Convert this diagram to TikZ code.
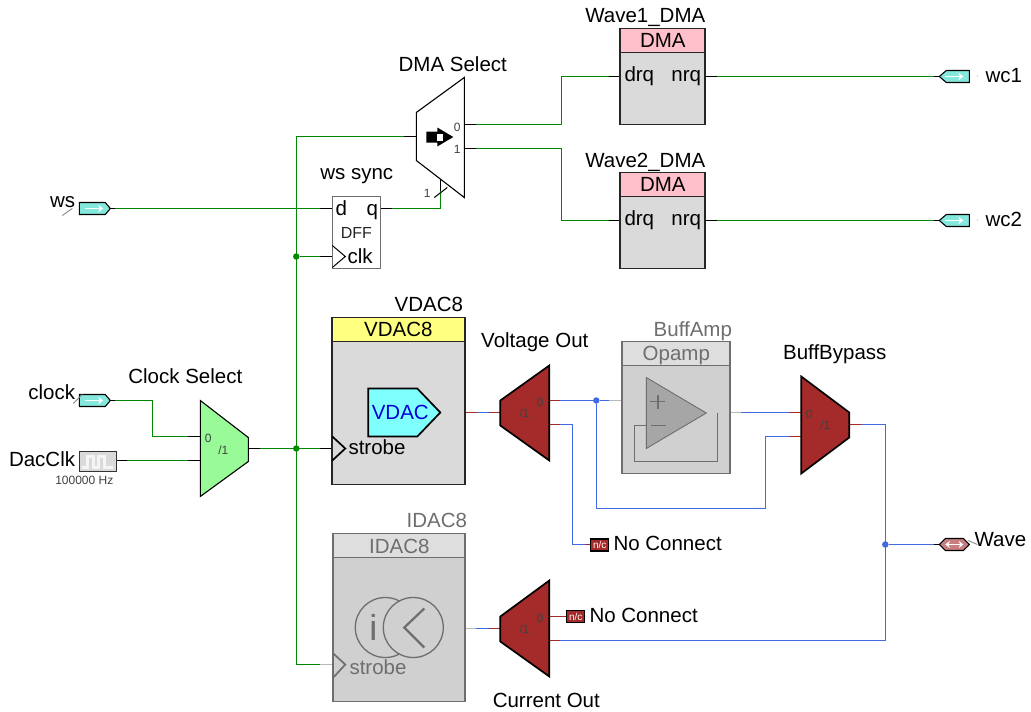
\documentclass[tikz,border=0pt]{standalone}
\usepackage{fontspec}
\setmainfont{Liberation Sans}
\usetikzlibrary{arrows.meta}
\definecolor{wg}{HTML}{008800}
\definecolor{wb}{HTML}{4169E1}
\definecolor{wgy}{HTML}{B8B8B8}
\definecolor{dg}{HTML}{6E6E6E}
\definecolor{brown1}{HTML}{A52A2A}
\definecolor{bodyg}{HTML}{DADADA}
\definecolor{dimbody}{HTML}{D0D0D0}
\definecolor{dimhead}{HTML}{DEDEDE}
\definecolor{portc}{HTML}{84E8DC}
\definecolor{pinkh}{HTML}{FFC0CB}
\definecolor{yellowh}{HTML}{FFFF80}
\definecolor{cyanb}{HTML}{80FFFF}
\definecolor{mintm}{HTML}{98FB98}
\newcommand{\txt}[1]{\fontsize{#1}{#1}\selectfont}
\tikzset{
  x=1pt,y=-1pt,
  lab/.style={inner sep=0pt,font=\txt{20.5},text=black,anchor=base},
  labw/.style={lab,anchor=base west},
  labe/.style={lab,anchor=base east},
  small/.style={inner sep=0pt,font=\txt{12},text=black!75,anchor=base},
  wgreen/.style={wg,line width=1.25pt},
  wblue/.style={wb,line width=1.25pt},
  wred/.style={brown1,line width=1.25pt},
  wgray/.style={wgy,line width=1.4pt},
  wblack/.style={black,line width=1.25pt},
  blockbox/.style={draw=black!85,line width=1.8pt},
  dimbox/.style={draw=dg,line width=1.8pt},
  muxred/.style={fill=brown1,draw=black,line width=1.7pt,line join=miter},
  port/.style={fill=portc,draw=black,line width=1.1pt},
  warrow/.style={white,line width=1.8pt,-{Stealth[length=5pt,width=7.5pt]}},
  gdot/.style={circle,fill=wg,inner sep=0pt,minimum size=6.5pt},
  bdot/.style={circle,fill=wb,inner sep=0pt,minimum size=6.5pt},
  nc/.style={fill=brown1,draw=black,line width=1.1pt,minimum width=18pt,minimum height=12pt,inner sep=0pt,text=white,font=\txt{10}},
}
\begin{document}
\begin{tikzpicture}
\useasboundingbox (0,0) rectangle (1031,712);
\begin{scope}[shift={(.3,.5)}]
% pins
\coordinate (wsout) at (110,208);
\coordinate (dffd) at (332,208);
\coordinate (dffq) at (380,208);
\coordinate (dffclk) at (332,256);
\coordinate (selpin) at (440,178);
\coordinate (dmain) at (416,136);
\coordinate (dmao0) at (464,124);
\coordinate (dmao1) at (464,148);
\coordinate (d1in) at (620,76);
\coordinate (d2in) at (620,220);
\coordinate (d1out) at (705,76);
\coordinate (d2out) at (705,220);
\coordinate (wc1p) at (939,76);
\coordinate (wc2p) at (939,220);
\coordinate (clkout) at (110,400);
\coordinate (dacout) at (116,460);
\coordinate (cs0) at (200,436);
\coordinate (cs1) at (200,460);
\coordinate (csout) at (248,448);
\coordinate (vstrobe) at (332,448);
\coordinate (istrobe) at (333,664);
\coordinate (vdacout) at (440,412);
\coordinate (vmin) at (500,412);
\coordinate (vm0) at (549,400);
\coordinate (vm1) at (549,424);
\coordinate (ampin) at (646,400);
\coordinate (ampout) at (706,412);
\coordinate (bb0) at (801,412);
\coordinate (bb1) at (801,436);
\coordinate (bbout) at (849,424);
\coordinate (idacout) at (444,628);
\coordinate (cmin) at (500,628);
\coordinate (cm0) at (549,616);
\coordinate (cm1) at (549,640);
\coordinate (wavep) at (939,544);
\coordinate (nc1p) at (591,544);
\coordinate (nc2p) at (566,616);
% junctions
\node[gdot] (j1) at (296,256) {};
\node[gdot] (j2) at (296,448) {};
\node[bdot] (j3) at (596,400) {};
\node[bdot] (j4) at (885,544) {};
% green wires
\draw[wgreen] (dmain) -- (296,136) -- (296,664) -- (istrobe);
\draw[wgreen] (wsout) -- (dffd);
\draw[wgreen] (j1) -- (dffclk);
\draw[wgreen] (csout) -- (vstrobe);
\draw[wgreen] (dffq) -- (selpin |- dffq) -- (selpin);
\draw[wgreen] (dmao0) -- (561,124) -- (561,76) -- (d1in);
\draw[wgreen] (dmao1) -- (561,148) -- (561,220) -- (d2in);
\draw[wgreen] (d1out) -- (wc1p);
\draw[wgreen] (d2out) -- (wc2p);
\draw[wgreen] (clkout) -- (152,400) -- (152,436) -- (cs0);
\draw[wgreen] (dacout) -- (cs1);
% blue wires
\draw[wblue] (vdacout) -- (vmin);
\draw[wblue] (vm0) -- (j3) -- (ampin);
\draw[wblue] (vm1) -- (572,424) -- (572,544) -- (nc1p);
\draw[wblue] (j3) -- (596,508) -- (765,508) -- (765,436) -- (bb1);
\draw[wblue] (ampout) -- (bb0);
\draw[wblue] (bbout) -- (885,424) -- (885,640) -- (cm1);
\draw[wblue] (j4) -- (wavep);
\draw[wblue] (idacout) -- (cmin);
% black stubs
\foreach \p/\d in {wsout/5,dffq/12,dmao0/12,dmao1/12,d1out/12,d2out/12,clkout/5,dacout/11,csout/12}
  \draw[wblack] (\p) -- ++(\d,0);
\foreach \p/\d in {dffd/-12,dffclk/-12,dmain/-12,d1in/-11,d2in/-11,wc1p/-5,wc2p/-5,cs0/-12,cs1/-12,vstrobe/-12,wavep/-5}
  \draw[wblack] (\p) -- ++(\d,0);
\draw[wblack] (selpin) -- ++(0,12);
% red stubs
\foreach \p/\d in {vm0/11,vm1/11,bbout/12,cm1/11}
  \draw[wred] (\p) -- ++(\d,0);
\foreach \p/\d in {vmin/-11,bb0/-12,bb1/-12,cmin/-11,nc1p/-6}
  \draw[wred] (\p) -- ++(\d,0);
\draw[wred] (465,412) -- (477,412);
\draw[wred] (cm0) -- (nc2p);
\draw[blue!55!black,line width=1.25pt] (vdacout) -- (465,412);
% gray wires
\draw[wgray] (609,400) -- (ampin);
\draw[wgray] (ampout) -- (741,412);
\draw[wgray] (320,664) -- (istrobe);
\draw[wgray] (idacout) -- (476,628);
% DMA Select mux
\path[draw=black,fill=white,line width=1.1pt] (416,112) -- (464,77) -- (464,197) -- (416,160) -- cycle;
\draw[black,line width=1pt] (434,197) -- (447,187);
\fill[black] (426,131) -- (437,131) -- (437,127) -- (453,136.5) -- (437,146) -- (437,142) -- (426,142) -- cycle;
\fill[white] (437,133) rectangle (443,140);
\node[lab] (ldma) at (452.5,71) {DMA Select};
\node[small] (m0) at (457,131) {0};
\node[small] (m1) at (457,153) {1};
\node[small] (m2) at (427,197) {1};
% DMA blocks
\foreach \n/\y/\t in {1/28/Wave1\_DMA,2/172/Wave2\_DMA}{
  \draw[blockbox,fill=bodyg] (620,\y) rectangle (705,\y+96);
  \draw[blockbox,fill=pinkh] (620,\y) rectangle (705,\y+24);
  \node[lab] (dh\n) at (662.5,\y+19) {DMA};
  \node[labw] (dq\n) at (624,\y+53) {drq};
  \node[labe] (nq\n) at (701,\y+53) {nrq};
  \node[lab] (dl\n) at (645,\y-5.5) {\t};
}
% out ports
\foreach \n/\y/\t in {1/76/wc1,2/220/wc2}{
  \path[port] (939,\y) -- (946,\y-6) -- (969,\y-6) -- (969,\y+6) -- (946,\y+6) -- cycle;
  \draw[warrow] (945,\y) -- (963,\y);
  \node[labw] (wc\n) at (985,\y+6) {\t};
  \fill[gray!70] (977,\y-.5) circle (.6);
}
% ws port and clock port
\foreach \n/\y in {a/208,b/400}{
  \path[port] (79,\y-6) -- (105,\y-6) -- (110,\y) -- (105,\y+6) -- (79,\y+6) -- cycle;
  \draw[warrow] (85,\y) -- (103,\y);
}
\node[labe] (lws) at (75,207) {ws};
\draw[gray,line width=.8pt] (62,215) -- (72,208);
\node[labe] (lclk) at (75,399) {clock};
\draw[gray,line width=.8pt] (73,403) -- (82,394);
% DacClk
\node[draw=black!80,fill=bodyg,line width=1.1pt,minimum width=37pt,minimum height=20pt,inner sep=0pt] (dac) at (97.5,461) {};
\draw[white!96!black,line width=2.5pt] (82,467) -- (87,467) -- (87,456) -- (93,456) -- (93,467) -- (98,467) -- (98,456) -- (104,456) -- (104,467) -- (113,467);
\node[labe] (ldac) at (75,466) {DacClk};
\node[small] (lhz) at (84,483.5) {100000 Hz};
% DFF
\node[draw=dg,fill=white,line width=1.3pt,minimum width=48pt,minimum height=72pt,inner sep=0pt] (dff) at (356,232) {};
\draw[black,line width=1pt] (332,245) -- (345,256) -- (332,267);
\node[lab] (ld) at (341,215) {d};
\node[lab] (lq) at (372,215) {q};
\node[inner sep=0pt,font=\txt{16},text=black!85,anchor=base] (ldff) at (356,237.5) {DFF};
\node[labw] (lck) at (347,262.5) {clk};
\node[lab] (lsync) at (356.5,179) {ws sync};
% Clock Select mux
\path[fill=mintm,draw=black,line width=1.1pt] (200,400) -- (248,437) -- (248,461) -- (200,496) -- cycle;
\node[small] (cs0l) at (208,442) {0};
\node[small] (cs1l) at (223,453.5) {/1};
\node[lab] (lcs) at (185,382.5) {Clock Select};
% VDAC8
\draw[blockbox,fill=bodyg] (332,317) rectangle (465,484);
\draw[blockbox,fill=yellowh] (332,317) rectangle (465,341);
\node[lab] (lv1) at (398,336) {VDAC8};
\node[labe] (lv2) at (463,311) {VDAC8};
\path[draw=black,fill=cyanb,line width=1.7pt] (368,388) -- (417,388) -- (440,412) -- (417,436) -- (368,436) -- cycle;
\node[lab,text=blue!85!black] (lvd) at (400,418.5) {VDAC};
\draw[black,line width=1.7pt] (332,436) -- (345,448) -- (332,460);
\node[labw] (lst) at (348,454) {strobe};
% Voltage Out mux
\path[muxred] (500,400) -- (549,365) -- (549,460) -- (500,425) -- cycle;
\node[small] (v0) at (540,405.5) {0};
\node[small] (v1) at (524,417) {/1};
\node[lab] (lvo) at (534.5,347) {Voltage Out};
% Opamp
\draw[dimbox,fill=dimbody] (622,341) rectangle (730,473);
\draw[dimbox,fill=dimhead] (622,341) rectangle (730,365);
\node[lab,text=dg] (lop) at (676,359.5) {Opamp};
\node[lab,text=dg] (lba) at (692.5,336) {BuffAmp};
\path[draw=dg,fill=gray!70!white,line width=.9pt] (646,377) -- (706,412.5) -- (646,448) -- cycle;
\draw[dg,line width=1.7pt] (650,401) -- (665,401) (657.5,394) -- (657.5,408);
\draw[dg,line width=1.7pt] (651,425) -- (666,425);
\draw[dg,line width=1.1pt] (717,412) -- (717,461) -- (634,461) -- (634,425) -- (646,425);
% BuffBypass mux
\path[muxred] (801,376) -- (849,412) -- (849,437) -- (801,473) -- cycle;
\node[small] (b0) at (809,418) {0};
\node[small] (b1) at (825,429) {/1};
\node[lab] (lbb) at (834.5,358.5) {BuffBypass};
% n/c
\node[nc] (nc1) at (599.5,544.5) {n/c};
\node[labw] (lnc1) at (613,550) {No Connect};
\node[nc] (nc2) at (575.5,616) {n/c};
\node[labw] (lnc2) at (589,622) {No Connect};
% Wave port
\path[fill=brown1!60!white,draw=black,line width=1.1pt] (939,544) -- (945,538) -- (963,538) -- (969,544) -- (963,550) -- (945,550) -- cycle;
\draw[white,line width=1.7pt,{Stealth[length=4.5pt,width=7pt]}-{Stealth[length=4.5pt,width=7pt]}] (945,544) -- (963,544);
\draw[gray,line width=.8pt] (968,540) -- (977,544);
\node[labw] (lw) at (974,546) {Wave};
% IDAC8
\draw[dimbox,fill=dimbody] (333,533) rectangle (465,701);
\draw[dimbox,fill=dimhead] (333,533) rectangle (465,557);
\node[lab,text=dg] (li1) at (399,552.5) {IDAC8};
\node[labe,text=dg] (li2) at (467,527) {IDAC8};
\draw[dg,line width=1.3pt] (385,627) circle (30);
\node[inner sep=0pt,font=\txt{36},text=dg,anchor=base] (li) at (373,640) {i};
\draw[dg,line width=1.3pt,fill=dimbody] (413,627) circle (30);
\draw[dg,line width=2.2pt] (424,608) -- (404,627) -- (424,647);
\draw[dg,line width=1.7pt] (333,653) -- (345,664) -- (333,677);
\node[labw,text=dg] (lst2) at (349,674) {strobe};
% Current Out mux
\path[muxred] (500,616) -- (549,580) -- (549,676) -- (500,641) -- cycle;
\node[small] (c0) at (540,622) {0};
\node[small] (c1) at (524,633) {/1};
\node[lab] (lco) at (546,707) {Current Out};
\end{scope}
\end{tikzpicture}
\end{document}
